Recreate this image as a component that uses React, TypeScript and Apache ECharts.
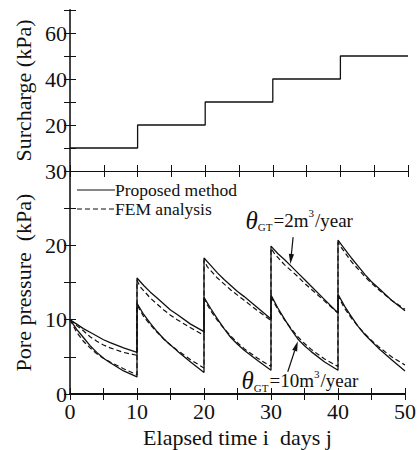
import React, { useEffect, useRef } from "react";
import * as echarts from "echarts";

// ---- Data ----
const SURCHARGE_TIME = [0, 10, 20, 30, 40, 50];
const SURCHARGE_KPA = [10, 20, 30, 40, 50, 50];

// Proposed method, theta_GT = 2 m3/year  [time (days), pore pressure (kPa)]
const PROPOSED_THETA2: number[][] = [
  [0, 10], [1, 9.4], [2, 8.8], [3, 8.3], [4, 7.8], [5, 7.3], [6, 6.9], [8, 6.2], [10, 5.6],
  [10, 15.6], [11, 14.6], [12, 13.7], [13, 12.9], [14, 12.1], [15, 11.3], [16, 10.7], [18, 9.4], [20, 8.4],
  [20, 18.3], [21, 17.3], [22, 16.3], [23, 15.4], [24, 14.6], [25, 13.8], [26, 13.1], [28, 11.6], [30, 10.1],
  [30, 19.9], [31, 18.9], [32, 18.1], [33, 17.2], [34, 16.3], [35, 15.4], [36, 14.5], [38, 12.7], [40, 10.9],
  [40, 20.7], [41, 19.5], [42, 18.3], [43, 17.2], [44, 16.1], [45, 15.1], [46, 14.3], [48, 12.6], [50, 11.2],
];

// FEM analysis, theta_GT = 2 m3/year
const FEM_THETA2: number[][] = [
  [0, 10], [1, 9.2], [2, 8.5], [3, 7.7], [4, 7.1], [5, 6.6], [6, 6.2], [8, 5.6], [10, 5.2],
  [10, 15.3], [10.5, 14.4], [12, 12.9], [14, 11.3], [15, 10.6], [16, 10.0], [18, 8.9], [20, 7.9],
  [20, 18.0], [20.5, 17.1], [22, 15.6], [24, 14.0], [25, 13.3], [26, 12.6], [28, 11.2], [30, 9.9],
  [30, 19.6], [30.5, 18.9], [32, 17.4], [34, 15.8], [35, 14.9], [36, 14.1], [38, 12.5], [40, 10.9],
  [40, 20.4], [40.5, 19.7], [42, 17.8], [44, 15.8], [45, 14.9], [46, 14.1], [48, 12.6], [50, 11.4],
];

// Proposed method, theta_GT = 10 m3/year
const PROPOSED_THETA10: number[][] = [
  [0, 10], [1, 8.7], [2, 7.6], [3, 6.5], [4, 5.6], [5, 4.8], [6, 4.2], [8, 3.1], [10, 2.3],
  [10, 12.2], [11, 10.7], [12, 9.5], [13, 8.4], [14, 7.4], [15, 6.6], [16, 5.8], [18, 4.3], [20, 2.9],
  [20, 13.0], [21, 11.5], [22, 10.1], [23, 8.8], [24, 7.6], [25, 6.7], [26, 5.9], [28, 4.5], [30, 3.2],
  [30, 13.3], [31, 11.6], [32, 10.1], [33, 8.7], [34, 7.4], [35, 6.5], [36, 5.7], [38, 4.3], [40, 3.2],
  [40, 13.4], [41, 11.8], [42, 10.4], [43, 9.1], [44, 8.0], [45, 7.1], [46, 6.2], [48, 4.6], [50, 3.1],
];

// FEM analysis, theta_GT = 10 m3/year
const FEM_THETA10: number[][] = [
  [0, 10], [1, 8.3], [2, 7.1], [3, 6.2], [4, 5.4], [5, 4.8], [6, 4.3], [8, 3.4], [10, 2.6],
  [10, 12.0], [11, 10.4], [12, 9.3], [13, 8.3], [14, 7.4], [15, 6.6], [16, 5.9], [18, 4.6], [20, 3.5],
  [20, 12.8], [21, 11.2], [22, 9.9], [23, 8.8], [24, 7.8], [25, 6.9], [26, 6.1], [28, 4.8], [30, 3.7],
  [30, 13.1], [31, 11.4], [32, 10.0], [33, 8.8], [34, 7.7], [35, 6.8], [36, 6.0], [38, 4.7], [40, 3.7],
  [40, 13.2], [41, 11.5], [42, 10.2], [43, 9.1], [44, 8.1], [45, 7.2], [46, 6.4], [48, 5.0], [50, 3.9],
];

// Annotation anchors in data coordinates of the lower panel [time, kPa]
const LABEL_THETA2_AT = [26.2, 23.4];
const ARROW_THETA2 = [[33.3, 21.1], [32.9, 17.5]];
const LABEL_THETA10_AT = [25.6, 1.8];
const ARROW_THETA10 = [[32.5, 3.0], [34.0, 7.1]];

const FONT = "Liberation Serif";
const INK = "#111";
const LINE_NAME = "Proposed method";
const DASH_NAME = "FEM analysis";

export default function App() {
  const ref = useRef<HTMLDivElement>(null);

  useEffect(() => {
    if (!ref.current) return;
    const chart = echarts.init(ref.current, undefined, { renderer: "svg" });

    const axisLine = { show: true, lineStyle: { color: INK, width: 1 } };
    const tickIn = { show: true, inside: true, length: 6, lineStyle: { color: INK, width: 1 } };
    const serif = { fontFamily: FONT, fontSize: 22, color: INK };

    const xBase = (gridIndex: number, position: string) => ({
      type: "value",
      gridIndex,
      position,
      min: 0,
      max: 50,
      interval: 5,
      axisLine: { ...axisLine },
      axisTick: tickIn,
      axisLabel: { show: false },
      splitLine: { show: false },
    });

    const option: any = {
      animation: false,
      backgroundColor: "#fff",
      textStyle: { fontFamily: FONT },
      grid: [
        { left: 70, top: 10, width: 338, height: 161 },
        { left: 70, top: 171, width: 338, height: 223 },
      ],
      xAxis: [
        xBase(0, "bottom"),
        xBase(0, "top"),
        {
          ...xBase(1, "bottom"),
          axisLine: { show: true, lineStyle: { color: INK, width: 2 } },
          axisLabel: {
            show: true,
            margin: 6,
            ...serif,
            formatter: (v: number) => (v % 10 === 0 ? String(v) : ""),
          },
          name: "Elapsed time i  days j",
          nameLocation: "middle",
          nameGap: 32,
          nameTextStyle: { ...serif },
        },
        xBase(1, "top"),
      ],
      yAxis: [
        {
          type: "value",
          gridIndex: 0,
          position: "left",
          min: 0,
          max: 70,
          interval: 10,
          axisLine,
          axisTick: tickIn,
          axisLabel: {
            show: true,
            margin: 3,
            ...serif,
            formatter: (v: number) => (v > 0 && v < 70 && v % 20 === 0 ? String(v) : ""),
          },
          splitLine: { show: false },
          name: "Surcharge (kPa)",
          nameLocation: "middle",
          nameGap: 36,
          nameTextStyle: { ...serif },
        },
        {
          type: "value",
          gridIndex: 0,
          position: "right",
          min: 0,
          max: 70,
          interval: 10,
          axisLine: { show: true, lineStyle: { color: "#444", width: 2 } },
          axisTick: tickIn,
          axisLabel: { show: false },
          splitLine: { show: false },
        },
        {
          type: "value",
          gridIndex: 1,
          position: "left",
          min: 0,
          max: 30,
          interval: 5,
          axisLine,
          axisTick: tickIn,
          axisLabel: {
            show: true,
            margin: 3,
            ...serif,
            formatter: (v: number) => (v % 10 === 0 ? String(v) : ""),
          },
          splitLine: { show: false },
          name: "Pore pressure  (kPa)",
          nameLocation: "middle",
          nameGap: 36,
          nameTextStyle: { ...serif },
        },
        {
          type: "value",
          gridIndex: 1,
          position: "right",
          min: 0,
          max: 30,
          interval: 5,
          axisLine: { show: true, lineStyle: { color: "#444", width: 2 } },
          axisTick: tickIn,
          axisLabel: { show: false },
          splitLine: { show: false },
        },
      ],
      series: [
        {
          type: "line",
          name: "Surcharge",
          xAxisIndex: 0,
          yAxisIndex: 0,
          step: "end",
          symbol: "none",
          lineStyle: { color: INK, width: 1.3 },
          data: SURCHARGE_TIME.map((t, i) => [t, SURCHARGE_KPA[i]]),
        },
        {
          type: "line",
          name: LINE_NAME,
          xAxisIndex: 2,
          yAxisIndex: 2,
          symbol: "none",
          color: INK,
          lineStyle: { color: INK, width: 1.3 },
          data: PROPOSED_THETA2,
        },
        {
          type: "line",
          name: DASH_NAME,
          xAxisIndex: 2,
          yAxisIndex: 2,
          symbol: "none",
          color: INK,
          lineStyle: { color: INK, width: 1.2, type: [5, 3] },
          data: FEM_THETA2,
        },
        {
          type: "line",
          name: LINE_NAME,
          xAxisIndex: 2,
          yAxisIndex: 2,
          symbol: "none",
          color: INK,
          lineStyle: { color: INK, width: 1.3 },
          data: PROPOSED_THETA10,
        },
        {
          type: "line",
          name: DASH_NAME,
          xAxisIndex: 2,
          yAxisIndex: 2,
          symbol: "none",
          color: INK,
          lineStyle: { color: INK, width: 1.2, type: [5, 3] },
          data: FEM_THETA10,
        },
      ],
    };

    chart.setOption(option);

    const px = (p: number[]) => chart.convertToPixel({ gridIndex: 1 } as any, p) as number[];

    const rich = {
      th: { fontFamily: FONT, fontStyle: "italic", fontSize: 25, fill: INK, color: INK },
      sub: { fontFamily: FONT, fontSize: 11, fill: INK, color: INK, verticalAlign: "bottom", padding: [8, 1, 0, 0] },
      n: { fontFamily: FONT, fontSize: 19, fill: INK, color: INK },
      sup: { fontFamily: FONT, fontSize: 11, fill: INK, color: INK, verticalAlign: "top", padding: [0, 1, 6, 0] },
    };

    const label = (at: number[], num: string) => {
      const p = px(at);
      return {
        type: "text",
        x: p[0],
        y: p[1],
        style: {
          text: `{th|θ}{sub|GT}{n|=${num}m}{sup|3}{n|/year}`,
          rich,
          verticalAlign: "middle",
          align: "left",
        },
        z: 100,
      };
    };

    const arrow = (seg: number[][]) => {
      const a = px(seg[0]);
      const b = px(seg[1]);
      const dx = b[0] - a[0];
      const dy = b[1] - a[1];
      const len = Math.sqrt(dx * dx + dy * dy);
      const ux = dx / len;
      const uy = dy / len;
      const headL = 10;
      const headW = 2.6;
      const base = [b[0] - ux * headL, b[1] - uy * headL];
      return [
        {
          type: "line",
          shape: { x1: a[0], y1: a[1], x2: base[0], y2: base[1] },
          style: { stroke: INK, lineWidth: 1.2 },
          z: 100,
        },
        {
          type: "polygon",
          shape: {
            points: [
              [b[0], b[1]],
              [base[0] - uy * headW, base[1] + ux * headW],
              [base[0] + uy * headW, base[1] - ux * headW],
            ],
          },
          style: { fill: INK },
          z: 100,
        },
      ];
    };

    // Legend (drawn as graphic: line sample + text)
    const legendItem = (y: number, text: string, dashed: boolean) => [
      {
        type: "line",
        shape: { x1: 77, y1: y, x2: 115, y2: y },
        style: { stroke: INK, lineWidth: 1.2, lineDash: dashed ? [5, 3] : null },
        z: 100,
      },
      {
        type: "text",
        x: 115,
        y,
        style: { text, fontFamily: FONT, fontSize: 17.5, fill: INK, verticalAlign: "middle", align: "left" },
        z: 100,
      },
    ];

    chart.setOption({
      graphic: [
        ...legendItem(190, LINE_NAME, false),
        ...legendItem(209, DASH_NAME, true),
        label(LABEL_THETA2_AT, "2"),
        label(LABEL_THETA10_AT, "10"),
        ...arrow(ARROW_THETA2),
        ...arrow(ARROW_THETA10),
      ],
    });

    return () => chart.dispose();
  }, []);

  return (
    <div
      ref={ref}
      style={{ position: "fixed", left: 0, top: 0, width: 419, height: 450, background: "#fff" }}
    />
  );
}
